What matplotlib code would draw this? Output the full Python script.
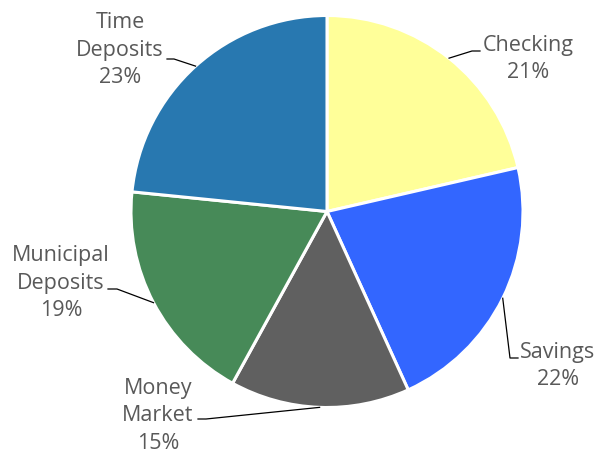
import numpy as np
import matplotlib.pyplot as plt

# data (shares; labels show rounded percent)
categories = ["Checking", "Savings", "Money\nMarket", "Municipal\nDeposits", "Time\nDeposits"]
shares = [21.4, 21.8, 14.8, 18.6, 23.4]
colors = ["#FFFF99", "#3366FF", "#606060", "#478A58", "#2878B0"]

# layout (pixels, top-left origin)
W, H = 601, 456
CENTER = (327, 212.5)
RADIUS = 196
label_pos = [(528, 59), (558, 366), (158, 416), (61, 283), (120, 50)]
leader_pts = [
    [(480, 52), (472, 52)],
    [(518, 359), (510, 359)],
    [(198, 420), (206, 420)],
    [(108, 290), (117, 290)],
    [(167, 60), (174, 60)],
]

TEXT_COLOR = "#595959"
plt.rcParams["font.family"] = ["Open Sans", "DejaVu Sans"]


def flip(p):
    return p[0], H - p[1]


def main():
    fig = plt.figure(figsize=(W / 100, H / 100), dpi=100)
    ax = fig.add_axes([0, 0, 1, 1])

    cx, cy = flip(CENTER)
    wedges, _ = ax.pie(
        shares,
        colors=colors,
        startangle=90,
        counterclock=False,
        center=(cx, cy),
        radius=RADIUS,
        wedgeprops=dict(edgecolor="white", linewidth=2.2),
        frame=True,
    )
    ax.set_xlim(0, W)
    ax.set_ylim(0, H)
    ax.axis("off")

    for w, name, pct, pos, pts in zip(wedges, categories, shares, label_pos, leader_pts):
        mid = np.deg2rad((w.theta1 + w.theta2) / 2)
        edge = (cx + RADIUS * np.cos(mid), cy + RADIUS * np.sin(mid))
        line = [flip(p) for p in pts] + [edge]
        ax.plot([p[0] for p in line], [p[1] for p in line], color="black", lw=0.9)
        tx, ty = flip(pos)
        ax.text(tx, ty, f"{name}\n{round(pct)}%", ha="center", va="center",
                multialignment="center", fontsize=15.5, color=TEXT_COLOR,
                linespacing=1.42)

    fig.savefig("out.png", dpi=100)


if __name__ == "__main__":
    main()
